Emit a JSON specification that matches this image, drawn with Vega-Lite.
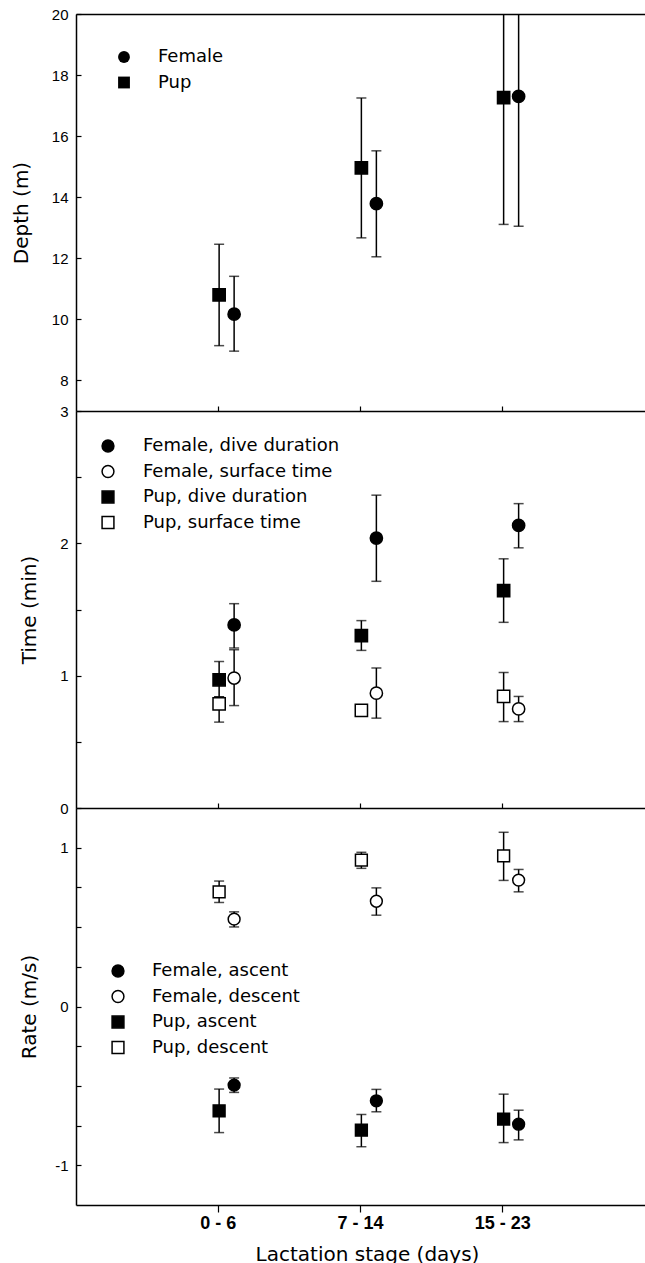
{
  "$schema": "https://vega.github.io/schema/vega-lite/v6.json",
  "background": "white",
  "padding": {"left": 11, "top": 7, "right": 0, "bottom": 0},
  "spacing": 0,
  "bounds": "flush",
  "resolve": {
    "scale": {"x": "independent", "y": "independent", "xOffset": "independent", "shape": "independent", "fill": "independent"},
    "legend": {"shape": "independent", "fill": "independent"}
  },
  "config": {
    "view": {"stroke": null},
    "axis": {
      "grid": false,
      "domainColor": "black",
      "domainWidth": 1.5,
      "tickColor": "black",
      "tickWidth": 1.2,
      "labelColor": "black",
      "labelFont": "Liberation Sans",
      "labelFontSize": 15,
      "labelOverlap": false,
      "labelFlush": false,
      "titleColor": "black",
      "titleFont": "DejaVu Sans",
      "titleFontSize": 20,
      "titleFontWeight": "normal"
    },
    "legend": {
      "orient": "none",
      "title": null,
      "padding": 0,
      "labelFont": "DejaVu Sans",
      "labelFontSize": 18,
      "labelColor": "black",
      "labelLimit": 400,
      "symbolSize": 140,
      "rowPadding": 7.5
    }
  },
  "datasets": {
    "depth": [
      {"stage": "0 - 6", "who": "Pup", "mean": 10.8, "lo": 9.14, "hi": 12.46},
      {"stage": "0 - 6", "who": "Female", "mean": 10.17, "lo": 8.96, "hi": 11.41},
      {"stage": "7 - 14", "who": "Pup", "mean": 14.96, "lo": 12.67, "hi": 17.25},
      {"stage": "7 - 14", "who": "Female", "mean": 13.79, "lo": 12.05, "hi": 15.52},
      {"stage": "15 - 23", "who": "Pup", "mean": 17.26, "lo": 13.11, "hi": 21.41},
      {"stage": "15 - 23", "who": "Female", "mean": 17.3, "lo": 13.05, "hi": 21.55}
    ],
    "time": [
      {"stage": "0 - 6", "who": "Female", "series": "Female, dive duration", "mean": 1.383, "lo": 1.209, "hi": 1.544},
      {"stage": "0 - 6", "who": "Female", "series": "Female, surface time", "mean": 0.982, "lo": 0.774, "hi": 1.196},
      {"stage": "0 - 6", "who": "Pup", "series": "Pup, dive duration", "mean": 0.969, "lo": 0.84, "hi": 1.107},
      {"stage": "0 - 6", "who": "Pup", "series": "Pup, surface time", "mean": 0.787, "lo": 0.649, "hi": 0.84},
      {"stage": "7 - 14", "who": "Female", "series": "Female, dive duration", "mean": 2.04, "lo": 1.713, "hi": 2.364},
      {"stage": "7 - 14", "who": "Female", "series": "Female, surface time", "mean": 0.868, "lo": 0.679, "hi": 1.058},
      {"stage": "7 - 14", "who": "Pup", "series": "Pup, dive duration", "mean": 1.302, "lo": 1.191, "hi": 1.416},
      {"stage": "7 - 14", "who": "Pup", "series": "Pup, surface time", "mean": 0.737, "lo": 0.725, "hi": 0.75},
      {"stage": "15 - 23", "who": "Female", "series": "Female, dive duration", "mean": 2.135, "lo": 1.966, "hi": 2.3},
      {"stage": "15 - 23", "who": "Female", "series": "Female, surface time", "mean": 0.749, "lo": 0.653, "hi": 0.843},
      {"stage": "15 - 23", "who": "Pup", "series": "Pup, dive duration", "mean": 1.643, "lo": 1.403, "hi": 1.883},
      {"stage": "15 - 23", "who": "Pup", "series": "Pup, surface time", "mean": 0.843, "lo": 0.653, "hi": 1.024}
    ],
    "rate": [
      {"stage": "0 - 6", "who": "Female", "series": "Female, ascent", "mean": -0.495, "lo": -0.541, "hi": -0.45},
      {"stage": "0 - 6", "who": "Female", "series": "Female, descent", "mean": 0.55, "lo": 0.501, "hi": 0.596},
      {"stage": "0 - 6", "who": "Pup", "series": "Pup, ascent", "mean": -0.657, "lo": -0.794, "hi": -0.52},
      {"stage": "0 - 6", "who": "Pup", "series": "Pup, descent", "mean": 0.722, "lo": 0.655, "hi": 0.79},
      {"stage": "7 - 14", "who": "Female", "series": "Female, ascent", "mean": -0.594, "lo": -0.663, "hi": -0.522},
      {"stage": "7 - 14", "who": "Female", "series": "Female, descent", "mean": 0.663, "lo": 0.575, "hi": 0.747},
      {"stage": "7 - 14", "who": "Pup", "series": "Pup, ascent", "mean": -0.779, "lo": -0.883, "hi": -0.68},
      {"stage": "7 - 14", "who": "Pup", "series": "Pup, descent", "mean": 0.922, "lo": 0.87, "hi": 0.971},
      {"stage": "15 - 23", "who": "Female", "series": "Female, ascent", "mean": -0.741, "lo": -0.84, "hi": -0.653},
      {"stage": "15 - 23", "who": "Female", "series": "Female, descent", "mean": 0.796, "lo": 0.722, "hi": 0.863},
      {"stage": "15 - 23", "who": "Pup", "series": "Pup, ascent", "mean": -0.709, "lo": -0.857, "hi": -0.552},
      {"stage": "15 - 23", "who": "Pup", "series": "Pup, descent", "mean": 0.948, "lo": 0.794, "hi": 1.097}
    ]
  },
  "vconcat": [
    {
      "width": 569,
      "height": 397,
      "data": {"name": "depth"},
      "resolve": {"axis": {"x": "independent"}},
      "encoding": {
        "xOffset": {"field": "who", "type": "nominal", "scale": {"type": "point", "padding": 0, "domain": ["Pup", "Female"], "range": [72, 87]}}
      },
      "layer": [
        {
          "mark": {"type": "rule", "color": "black", "strokeWidth": 1.5, "clip": true},
          "encoding": {
            "x": {"field": "stage", "type": "nominal", "sort": null,
                  "scale": {"domain": ["0 - 6", "7 - 14", "15 - 23"], "paddingInner": 0, "paddingOuter": 0.5},
                  "axis": {"title": null, "labels": false, "tickSize": -5, "tickWidth": 1.2}},
            "y": {"field": "lo", "type": "quantitative", "scale": {"domain": [7, 20], "nice": false, "zero": false},
                  "axis": {"title": "Depth (m)", "values": [8, 9, 10, 11, 12, 13, 14, 15, 16, 17, 18, 19, 20],
                           "labelExpr": "datum.value % 2 === 0 ? '' + datum.value : ''",
                           "tickSize": -5, "labelPadding": 13, "titlePadding": 20}},
            "y2": {"field": "hi"}
          }
        },
        {
          "mark": {"type": "tick", "color": "black", "thickness": 1.5, "size": 10, "clip": true},
          "encoding": {
            "x": {"field": "stage", "type": "nominal", "sort": null, "axis": null},
            "y": {"field": "lo", "type": "quantitative", "scale": {"domain": [7, 20], "nice": false, "zero": false}, "axis": {"title": "Depth (m)"}}
          }
        },
        {
          "mark": {"type": "tick", "color": "black", "thickness": 1.5, "size": 10, "clip": true},
          "encoding": {
            "x": {"field": "stage", "type": "nominal", "sort": null, "axis": null},
            "y": {"field": "hi", "type": "quantitative", "scale": {"domain": [7, 20], "nice": false, "zero": false}, "axis": {"title": "Depth (m)"}}
          }
        },
        {
          "mark": {"type": "point", "size": 150, "stroke": "black", "strokeWidth": 1.5, "fill": "black", "filled": true, "opacity": 1},
          "encoding": {
            "x": {"field": "stage", "type": "nominal", "sort": null,
                  "axis": {"orient": "top", "title": null, "labels": false, "ticks": false}},
            "y": {"field": "mean", "type": "quantitative", "scale": {"domain": [7, 20], "nice": false, "zero": false}, "axis": {"title": "Depth (m)"}},
            "shape": {"field": "who", "type": "nominal",
                      "scale": {"domain": ["Female", "Pup"], "range": ["circle", "square"]},
                      "legend": {"legendX": 39, "legendY": 34, "labelOffset": 25, "symbolFillColor": "black", "symbolStrokeColor": "black"}}
          }
        }
      ]
    },
    {
      "width": 569,
      "height": 397,
      "data": {"name": "time"},
      "encoding": {
        "x": {"field": "stage", "type": "nominal", "sort": null,
              "scale": {"domain": ["0 - 6", "7 - 14", "15 - 23"], "paddingInner": 0, "paddingOuter": 0.5},
              "axis": {"title": null, "labels": false, "tickSize": -5, "tickWidth": 1.2}},
        "xOffset": {"field": "who", "type": "nominal", "scale": {"type": "point", "padding": 0, "domain": ["Pup", "Female"], "range": [72, 87]}}
      },
      "layer": [
        {
          "mark": {"type": "rule", "color": "black", "strokeWidth": 1.5, "clip": true},
          "encoding": {
            "y": {"field": "lo", "type": "quantitative", "scale": {"domain": [0, 3], "nice": false},
                  "axis": {"title": "Time (min)", "values": [0, 0.25, 0.5, 0.75, 1, 1.25, 1.5, 1.75, 2, 2.25, 2.5, 2.75, 3],
                           "labelExpr": "datum.value % 1 === 0 ? '' + datum.value : ''",
                           "tickSize": -5, "labelPadding": 13, "titlePadding": 20}},
            "y2": {"field": "hi"}
          }
        },
        {
          "mark": {"type": "tick", "color": "black", "thickness": 1.5, "size": 10, "clip": true},
          "encoding": {
            "y": {"field": "lo", "type": "quantitative", "scale": {"domain": [0, 3], "nice": false}, "axis": {"title": "Time (min)"}}
          }
        },
        {
          "mark": {"type": "tick", "color": "black", "thickness": 1.5, "size": 10, "clip": true},
          "encoding": {
            "y": {"field": "hi", "type": "quantitative", "scale": {"domain": [0, 3], "nice": false}, "axis": {"title": "Time (min)"}}
          }
        },
        {
          "mark": {"type": "point", "size": 150, "stroke": "black", "strokeWidth": 1.5, "filled": true, "opacity": 1},
          "encoding": {
            "y": {"field": "mean", "type": "quantitative", "scale": {"domain": [0, 3], "nice": false}, "axis": {"title": "Time (min)"}},
            "shape": {"field": "series", "type": "nominal",
                      "scale": {"domain": ["Female, dive duration", "Female, surface time", "Pup, dive duration", "Pup, surface time"], "range": ["circle", "circle", "square", "square"]},
                      "legend": {"legendX": 23, "legendY": 26, "labelOffset": 26,
                                 "encode": {"symbols": {"update": {"stroke": {"value": "black"}, "strokeWidth": {"value": 1.5}}}}}},
            "fill": {"field": "series", "type": "nominal",
                     "scale": {"domain": ["Female, dive duration", "Female, surface time", "Pup, dive duration", "Pup, surface time"], "range": ["black", "white", "black", "white"]},
                     "legend": {"legendX": 23, "legendY": 26, "labelOffset": 26,
                                "encode": {"symbols": {"update": {"stroke": {"value": "black"}, "strokeWidth": {"value": 1.5}}}}}}
          }
        }
      ]
    },
    {
      "width": 569,
      "height": 397,
      "data": {"name": "rate"},
      "encoding": {
        "x": {"field": "stage", "type": "nominal", "sort": null,
              "scale": {"domain": ["0 - 6", "7 - 14", "15 - 23"], "paddingInner": 0, "paddingOuter": 0.5},
              "axis": {"title": "Lactation stage (days)", "labelAngle": 0, "tickSize": 7, "tickWidth": 1.2, "labelPadding": 2,
                       "labelFontSize": 18, "labelFontWeight": "bold", "titlePadding": 12, "titleX": 291}},
        "xOffset": {"field": "who", "type": "nominal", "scale": {"type": "point", "padding": 0, "domain": ["Pup", "Female"], "range": [72, 87]}}
      },
      "layer": [
        {
          "mark": {"type": "rule", "color": "black", "strokeWidth": 1.5, "clip": true},
          "encoding": {
            "y": {"field": "lo", "type": "quantitative", "scale": {"domain": [-1.25, 1.25], "nice": false},
                  "axis": {"title": "Rate (m/s)", "values": [-1, -0.75, -0.5, -0.25, 0, 0.25, 0.5, 0.75, 1],
                           "labelExpr": "datum.value % 1 === 0 ? '' + datum.value : ''",
                           "tickSize": -5, "labelPadding": 13, "titlePadding": 15}},
            "y2": {"field": "hi"}
          }
        },
        {
          "mark": {"type": "tick", "color": "black", "thickness": 1.5, "size": 10, "clip": true},
          "encoding": {
            "y": {"field": "lo", "type": "quantitative", "scale": {"domain": [-1.25, 1.25], "nice": false}, "axis": {"title": "Rate (m/s)"}}
          }
        },
        {
          "mark": {"type": "tick", "color": "black", "thickness": 1.5, "size": 10, "clip": true},
          "encoding": {
            "y": {"field": "hi", "type": "quantitative", "scale": {"domain": [-1.25, 1.25], "nice": false}, "axis": {"title": "Rate (m/s)"}}
          }
        },
        {
          "mark": {"type": "point", "size": 140, "stroke": "black", "strokeWidth": 1.5, "filled": true, "opacity": 1},
          "encoding": {
            "y": {"field": "mean", "type": "quantitative", "scale": {"domain": [-1.25, 1.25], "nice": false}, "axis": {"title": "Rate (m/s)"}},
            "shape": {"field": "series", "type": "nominal",
                      "scale": {"domain": ["Female, ascent", "Female, descent", "Pup, ascent", "Pup, descent"], "range": ["circle", "circle", "square", "square"]},
                      "legend": {"legendX": 33, "legendY": 154, "labelOffset": 25,
                                 "encode": {"symbols": {"update": {"stroke": {"value": "black"}, "strokeWidth": {"value": 1.5}}}}}},
            "fill": {"field": "series", "type": "nominal",
                     "scale": {"domain": ["Female, ascent", "Female, descent", "Pup, ascent", "Pup, descent"], "range": ["black", "white", "black", "white"]},
                     "legend": {"legendX": 33, "legendY": 154, "labelOffset": 25,
                                "encode": {"symbols": {"update": {"stroke": {"value": "black"}, "strokeWidth": {"value": 1.5}}}}}}
          }
        }
      ]
    }
  ]
}
